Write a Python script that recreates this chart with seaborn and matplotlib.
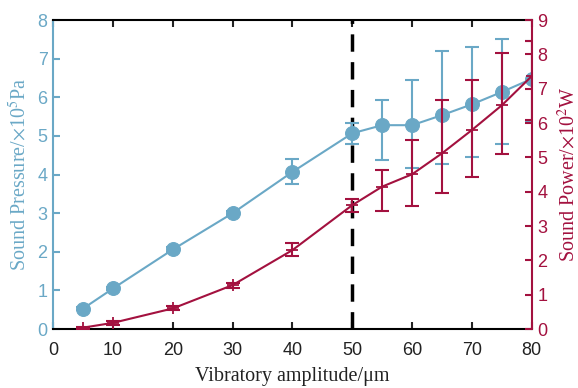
import matplotlib
matplotlib.use("Agg")
import matplotlib.pyplot as plt
import seaborn as sns
import numpy as np
import pandas as pd

# Vibratory amplitude (um)
amplitude = [5, 10, 20, 30, 40, 50, 55, 60, 65, 70, 75, 80]

# Sound pressure (x10^5 Pa) with lower / upper error
pressure = [0.53, 1.05, 2.06, 3.00, 4.07, 5.07, 5.28, 5.28, 5.54, 5.82, 6.14, 6.48]
pressure_lo = [0.05, 0.05, 0.06, 0.05, 0.32, 0.28, 0.90, 1.10, 1.27, 1.36, 1.36, 1.11]
pressure_hi = [0.05, 0.05, 0.06, 0.05, 0.33, 0.26, 0.65, 1.17, 1.67, 1.48, 1.36, 0.99]

# Sound power (x10^2 W) with lower / upper error
power = [0.04, 0.18, 0.60, 1.28, 2.30, 3.61, 4.15, 4.51, 5.12, 5.80, 6.52, 7.37]
power_lo = [0.03, 0.05, 0.06, 0.07, 0.16, 0.19, 0.71, 0.93, 1.17, 1.36, 1.43, 1.28]
power_hi = [0.03, 0.05, 0.06, 0.07, 0.20, 0.18, 0.48, 1.00, 1.55, 1.47, 1.51, 1.02]

blue = "#6aa8c6"
red = "#a3113f"

df = pd.DataFrame({"amp": amplitude, "pressure": pressure, "power": power})

sns.set_style("ticks")
plt.rcParams["font.family"] = ["Liberation Sans", "DejaVu Sans"]
plt.rcParams["mathtext.fontset"] = "stix"

fig = plt.figure(figsize=(5.78, 3.88), dpi=100)
ax = fig.add_axes([0.092, 0.152, 0.828, 0.796])
ax2 = ax.twinx()

# sound pressure (left axis)
ax.errorbar(amplitude, pressure, yerr=[pressure_lo, pressure_hi], fmt="none",
            ecolor=blue, elinewidth=1.5, capsize=5, capthick=1.5, zorder=2)
sns.lineplot(data=df, x="amp", y="pressure", ax=ax, color=blue, marker="o",
             markersize=10, markeredgecolor=blue, linewidth=1.5, zorder=3)

# sound power (right axis)
ax2.errorbar(amplitude, power, yerr=[power_lo, power_hi], fmt="none",
             ecolor=red, elinewidth=1.5, capsize=5, capthick=1.5, zorder=2)
sns.lineplot(data=df, x="amp", y="power", ax=ax2, color=red, marker="+",
             markersize=9, markeredgecolor=red, markeredgewidth=1.3,
             linewidth=1.5, zorder=3)

ax.axvline(50, color="black", linestyle=(0, (5, 3)), linewidth=2.5, zorder=1)

ax.set_xlim(0, 80)
ax.set_ylim(0, 8)
ax2.set_ylim(0, 9)
ax.set_xticks(np.arange(0, 81, 10))
ax.set_yticks(np.arange(0, 9, 1))
ax2.set_yticks(np.arange(0, 10, 1))

ax.set_xlabel("Vibratory amplitude/μm", family="Liberation Serif", fontsize=14.5,
              color="#222222", labelpad=6)
ax.set_ylabel("Sound Pressure/$\\times$10$^5$Pa", family="Liberation Serif",
              fontsize=14.5, color=blue, labelpad=5)
ax2.set_ylabel("Sound Power/$\\times$10$^2$W", family="Liberation Serif",
               fontsize=14.5, color=red, labelpad=7)

for s in ["top", "bottom"]:
    ax.spines[s].set_color("black")
    ax.spines[s].set_linewidth(1.5)
    ax2.spines[s].set_visible(False)
ax.spines["left"].set_color(blue)
ax.spines["left"].set_linewidth(1.5)
ax.spines["right"].set_visible(False)
ax2.spines["left"].set_visible(False)
ax2.spines["right"].set_color(red)
ax2.spines["right"].set_linewidth(1.5)

ax.tick_params(axis="x", direction="in", top=True, length=5, width=1.5,
               labelsize=13, colors="#222222", pad=9)
ax.tick_params(axis="y", direction="in", length=5, width=1.5, labelsize=13,
               colors=blue, pad=4)
ax2.tick_params(axis="y", direction="in", length=5, width=1.5, labelsize=13,
                colors=red, pad=4)

fig.savefig("out.png", dpi=100)
